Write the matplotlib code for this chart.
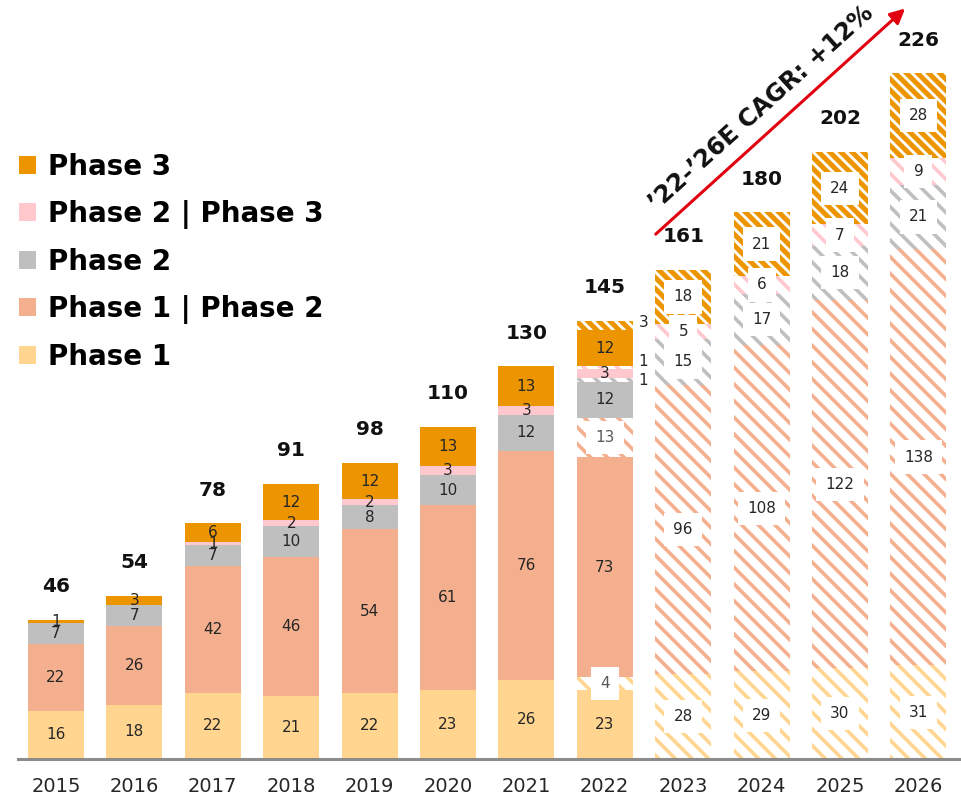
import matplotlib
matplotlib.use('Agg')
import numpy as np
import matplotlib.pyplot as plt
from matplotlib.patches import Patch

years = ['2015', '2016', '2017', '2018', '2019', '2020',
         '2021', '2022', '2023', '2024', '2025', '2026']
phase1 = [16, 18, 22, 21, 22, 23, 26, 23, 0, 0, 0, 0]
phase1_est = [0, 0, 0, 0, 0, 0, 0, 4, 28, 29, 30, 31]
phase12 = [22, 26, 42, 46, 54, 61, 76, 73, 0, 0, 0, 0]
phase12_est = [0, 0, 0, 0, 0, 0, 0, 13, 96, 108, 122, 138]
phase2 = [7, 7, 7, 10, 8, 10, 12, 12, 0, 0, 0, 0]
phase2_est = [0, 0, 0, 0, 0, 0, 0, 1, 15, 17, 18, 21]
phase23 = [0, 0, 1, 2, 2, 3, 3, 3, 0, 0, 0, 0]
phase23_est = [0, 0, 0, 0, 0, 0, 0, 1, 5, 6, 7, 9]
phase3 = [1, 3, 6, 12, 12, 13, 13, 12, 0, 0, 0, 0]
phase3_est = [0, 0, 0, 0, 0, 0, 0, 3, 18, 21, 24, 28]
totals = [46, 54, 78, 91, 98, 110, 130, 145, 161, 180, 202, 226]

names = ['Phase 1', 'Phase 1 | Phase 2', 'Phase 2', 'Phase 2 | Phase 3', 'Phase 3']
colors = ['#FFD590', '#F4B08E', '#BFBFBF', '#FFC7CE', '#EC9500']
hatches = ['\\\\', '\\\\', '\\\\', '\\\\', '\\\\\\']
hatch_lw = [2.6, 2.6, 2.6, 2.6, 3.6]
# nudge for the thin 2022 slices labelled outside the bar
outside_dy = [0, 0, -0.3, 2.0, 0.9]

plt.rcParams['hatch.linewidth'] = 2.6

fig = plt.figure(figsize=(9.62, 7.99), dpi=100)
ax = fig.add_axes([0, 40 / 799, 1, 755 / 799])
x = np.arange(len(years))
step = 78.4
ax.set_xlim(-56 / step, (962 - 56) / step)
ax.set_ylim(0, 250)
width = 56 / step

layers = [(phase1, phase1_est), (phase12, phase12_est), (phase2, phase2_est),
          (phase23, phase23_est), (phase3, phase3_est)]

bottom = np.zeros(len(years))
for k, (solid, est) in enumerate(layers):
    color = colors[k]
    solid = np.array(solid, dtype=float)
    est = np.array(est, dtype=float)
    ax.bar(x, solid, width, bottom=bottom, color=color, linewidth=0)
    for i, v in enumerate(solid):
        if v > 0:
            ax.text(x[i], bottom[i] + v / 2, f'{v:.0f}', ha='center', va='center',
                    fontsize=11, color='#262626')
    bottom = bottom + solid

    with plt.rc_context({'hatch.linewidth': hatch_lw[k]}):
        hb = ax.bar(x, est, width, bottom=bottom, facecolor='white', edgecolor=color,
                    hatch=hatches[k], linewidth=0)
    for p in hb:
        if hasattr(p, 'set_hatch_linewidth'):
            p.set_hatch_linewidth(hatch_lw[k])
    for i, v in enumerate(est):
        if v <= 0:
            continue
        if v < 4:
            ax.text(x[i] + 0.49, bottom[i] + v / 2 + outside_dy[k], f'{v:.0f}', ha='center',
                    va='center', fontsize=11, color='#262626')
        else:
            ax.text(x[i], bottom[i] + v / 2, f'{v:.0f}', ha='center', va='center',
                    fontsize=11, color='#595959' if i == 7 else '#262626',
                    bbox=dict(boxstyle='square,pad=0.6', fc='white', ec='none'))
    bottom = bottom + est

for i, t in enumerate(totals):
    ax.annotate(str(t), (x[i], bottom[i]), xytext=(0, 24), textcoords='offset points',
                ha='center', va='center', fontsize=14.5, fontweight='bold', color='#111111')

# CAGR arrow
ax.annotate('', xy=(10.83, 248.5), xytext=(7.65, 173.8),
            arrowprops=dict(arrowstyle='-|>', color='#E00010', lw=2.2, mutation_scale=22,
                            shrinkA=0, shrinkB=0),
            annotation_clip=False)
ax.text(9.0, 215.6, '\u201922-\u201926E CAGR: +12%', rotation=42, rotation_mode='anchor',
        ha='center', va='center', fontsize=17.5, fontweight='bold', color='#111111')

for s in ['top', 'left', 'right']:
    ax.spines[s].set_visible(False)
ax.spines['bottom'].set_color('#8C8C8C')
ax.spines['bottom'].set_linewidth(2.2)
ax.spines['bottom'].set_bounds(-0.485, (962 - 56) / step)
ax.set_yticks([])
ax.set_xticks(x, years)
ax.tick_params(axis='x', length=0, pad=13, labelsize=14, labelcolor='#262626')

handles = [Patch(facecolor=c, edgecolor='none') for c in colors][::-1]
ax.legend(handles, names[::-1], loc='upper left', bbox_to_anchor=(19 / 962, 1 - 153 / 799),
          bbox_transform=fig.transFigure, frameon=False, borderpad=0, borderaxespad=0,
          handlelength=0.62, handleheight=0.62, handletextpad=0.42, labelspacing=0.68,
          prop={'size': 20, 'weight': 'bold'})

fig.savefig('out.png', dpi=100)
